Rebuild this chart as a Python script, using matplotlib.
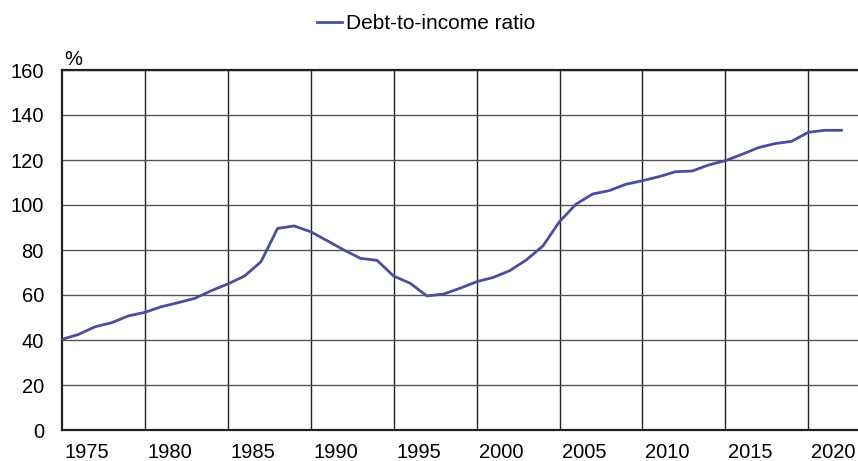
import numpy as np
from matplotlib import pyplot as plt

plt.rcParams['font.family'] = ['Liberation Sans', 'DejaVu Sans']

# annual data, 1973-2020, plotted at year end
years = np.arange(1973, 2021)
ratio = [40.3, 42.5, 45.9, 47.7, 50.7, 52.3, 54.8, 56.6, 58.5, 61.9,
         64.9, 68.4, 74.8, 89.6, 90.7, 88.1, 84.1, 80.0, 76.3, 75.4,
         68.4, 65.2, 59.6, 60.4, 63.0, 65.9, 67.8, 70.8, 75.6, 81.8,
         92.6, 100.4, 104.9, 106.4, 109.2, 110.8, 112.6, 114.8, 115.1, 117.8,
         119.7, 122.5, 125.5, 127.3, 128.3, 132.3, 133.2, 133.2]
label_years = [1975, 1980, 1985, 1990, 1995, 2000, 2005, 2010, 2015, 2020]
grid_years = [1979, 1984, 1989, 1994, 1999, 2004, 2009, 2014, 2019]

fig = plt.figure(figsize=(8.58, 4.61), dpi=100)
ax = fig.add_axes([62/858, 31/461, 1 - 62/858, 360/461])

line, = ax.plot(years + 1.0, ratio, color='#4a4e9c', lw=2.0,
                label='Debt-to-income ratio', zorder=3)

ax.set_xlim(1974, 2022)
ax.set_ylim(0, 160)
ax.set_yticks(range(0, 161, 20))
ax.set_xticks([y + 0.5 for y in label_years])
ax.set_xticklabels([str(y) for y in label_years])
ax.set_xticks(grid_years, minor=True)

ax.tick_params(axis='both', which='both', length=0, labelsize=14.5)
ax.tick_params(axis='y', pad=13)
ax.tick_params(axis='x', pad=9.5)

ax.grid(axis='y', which='major', color='#555555', lw=1.0)
ax.grid(axis='x', which='minor', color='#222222', lw=1.0)
ax.set_axisbelow(True)

for s in ['top', 'bottom', 'left']:
    ax.spines[s].set_color('#222222')
    ax.spines[s].set_linewidth(1.6)
ax.spines['right'].set_visible(False)

ax.text(0.003, 1.003, '%', transform=ax.transAxes, fontsize=14.5,
        ha='left', va='bottom')

fig.legend(handles=[line], loc='center', bbox_to_anchor=(0.497, 0.948),
           frameon=False, fontsize=15, handlelength=1.2, handletextpad=0.2)

plt.savefig('out.png', dpi=100)
plt.close()
